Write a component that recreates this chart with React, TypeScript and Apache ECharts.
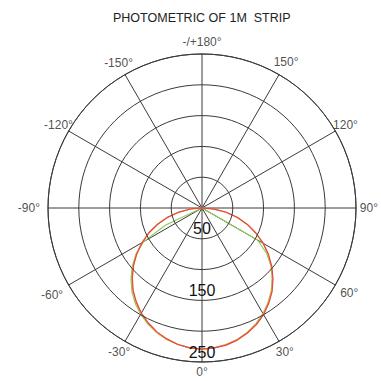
import React, { useEffect, useRef } from "react";
import * as echarts from "echarts";

const TITLE = "PHOTOMETRIC OF 1M  STRIP";
const ANGLES = [-90, -85, -80, -75, -70, -65, -60, -55, -50, -45, -40, -35, -30, -25, -20, -15, -10, -5, 0, 5, 10, 15, 20, 25, 30, 35, 40, 45, 50, 55, 60, 65, 70, 75, 80, 85, 90];
const RED = [0, 18, 38, 57, 76, 95, 112, 129, 145, 160, 174, 186, 197, 206, 214, 220, 225, 228, 229, 228, 226, 222, 216, 209, 200, 189, 177, 163, 148, 132, 115, 97, 79, 60, 40, 20, 0];
const ORANGE = [0, 19, 38, 58, 77, 96, 113, 130, 146, 161, 175, 187, 198, 207, 215, 221, 225, 228, 229, 228, 225, 221, 215, 208, 199, 188, 176, 162, 147, 131, 114, 96, 78, 59, 39, 19, 0];
const GREEN = [0, 0, 0, 0, 0, 65, 110, 131, 148, 163, 177, 189, 199, 208, 215, 221, 225, 228, 229, 228, 225, 221, 215, 207, 198, 187, 175, 161, 146, 128, 104, 0, 0, 0, 0, 0, 0];
const RADIUS_TICKS = [50, 150, 250];
const ANGLE_TICKS = [0, 30, 60, 90, 120, 150, 180, 210, 240, 270, 300, 330];
const ANGLE_TICK_LABELS = ["0°", "30°", "60°", "90°", "120°", "150°", "-/+180°", "-150°", "-120°", "-90°", "-60°", "-30°"];

const FONT = "'Liberation Sans', Arial, sans-serif";
// layout: radial distance (in radius-axis units) at which each angle label is centred
const LABEL_DIST: Record<number, number> = { 0: 267, 60: 276, 90: 271, 150: 273, 210: 271, 270: 281, 300: 281 };
const LABEL_DIST_DEFAULT = 269;

export default function App() {
  const ref = useRef<HTMLDivElement>(null);
  useEffect(() => {
    if (!ref.current) return;
    const chart = echarts.init(ref.current, undefined, { renderer: "svg" });
    const mk = (name: string, vals: number[], color: string) => ({
      type: "line",
      name,
      coordinateSystem: "polar",
      data: vals.map((v, i) => [v, ANGLES[i]]),
      showSymbol: false,
      symbol: "none",
      lineStyle: { color, width: 1.2 },
      clip: false,
    });
    const grid = { color: "#3a3a3a", width: 1 };
    chart.setOption({
      animation: false,
      backgroundColor: "#ffffff",
      title: {
        text: TITLE,
        left: 113,
        top: 11,
        padding: 0,
        textStyle: { fontFamily: FONT, fontSize: 12.5, fontWeight: "normal", color: "#222" },
      },
      polar: { center: [202, 208], radius: 154 },
      angleAxis: {
        type: "value",
        min: 0,
        max: 360,
        interval: 30,
        startAngle: 270,
        clockwise: false,
        axisLine: { show: true, lineStyle: grid },
        axisTick: { show: false },
        splitLine: { show: true, lineStyle: grid },
        axisLabel: { show: false },
      },
      radiusAxis: {
        type: "value",
        min: 0,
        max: 250,
        interval: 50,
        axisLine: { show: false },
        axisTick: { show: false },
        splitLine: { show: true, lineStyle: grid },
        axisLabel: {
          margin: 0,
          align: "center",
          verticalAlign: "bottom",
          padding: [0, 0, 2, 0],
          fontFamily: FONT,
          fontSize: 16,
          color: "#111",
          formatter: (v: number) => (RADIUS_TICKS.includes(v) ? String(v) : ""),
        },
        z: 10,
      },
      series: [
        mk("green", GREEN, "#8fcc5c"),
        mk("orange", ORANGE, "#f0a452"),
        mk("red", RED, "#e4473c"),
        {
          type: "scatter",
          name: "angle labels",
          coordinateSystem: "polar",
          symbolSize: 1,
          itemStyle: { color: "rgba(0,0,0,0)" },
          silent: true,
          clip: false,
          data: ANGLE_TICKS.map((a, i) => ({
            value: [LABEL_DIST[a] ?? LABEL_DIST_DEFAULT, a],
            name: ANGLE_TICK_LABELS[i],
          })),
          label: {
            show: true,
            position: "inside",
            formatter: (p: any) => p.name,
            fontFamily: FONT,
            fontSize: 12,
            color: "#222",
          },
        },
      ],
    });
    return () => chart.dispose();
  }, []);
  return <div ref={ref} style={{ position: "fixed", left: 0, top: 0, width: 381, height: 381 }} />;
}
